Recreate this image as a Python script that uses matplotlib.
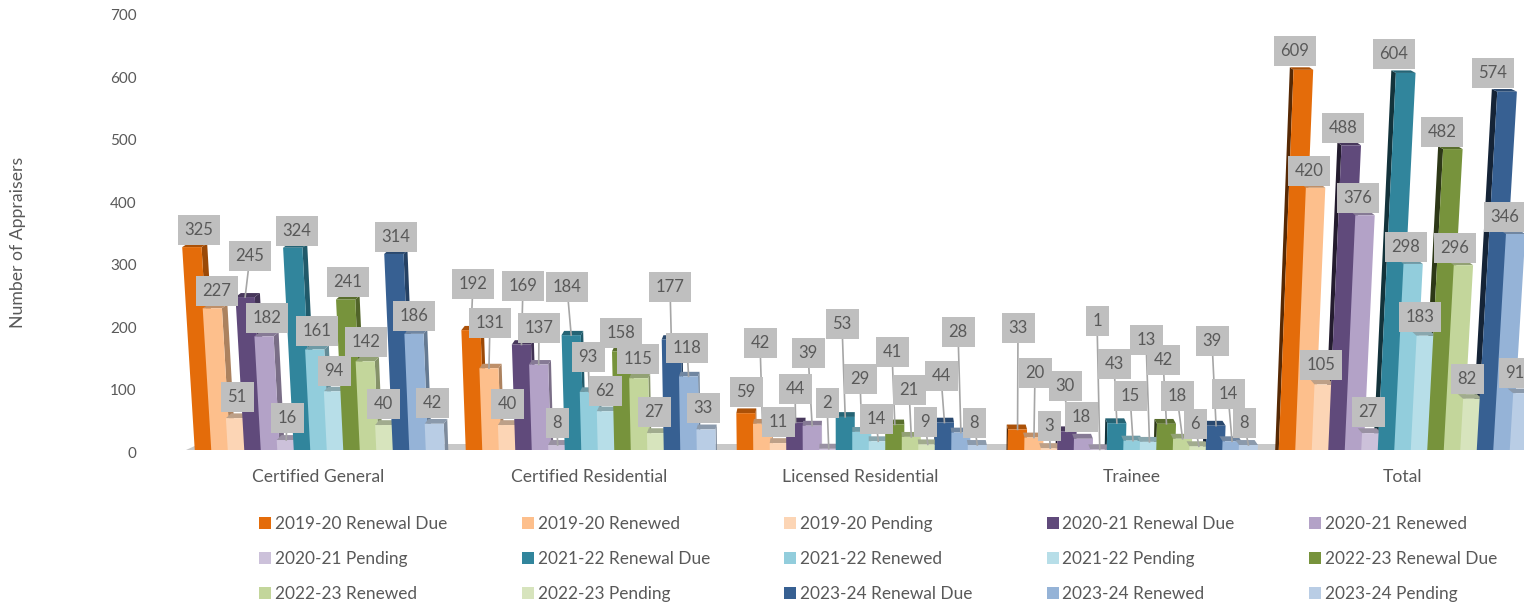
import matplotlib
matplotlib.use('Agg')
import matplotlib.pyplot as plt
from matplotlib.colors import to_rgb
from matplotlib.patches import Rectangle
from matplotlib.transforms import ScaledTranslation

plt.rcParams['font.family'] = ['Lato', 'DejaVu Sans']

W, H = 1524, 606

categories = ['Certified General', 'Certified Residential', 'Licensed Residential', 'Trainee', 'Total']

due_2019 = [325, 192, 59, 33, 609]
renewed_2019 = [227, 131, 42, 20, 420]
pending_2019 = [51, 40, 11, 3, 105]
due_2020 = [245, 169, 44, 30, 488]
renewed_2020 = [182, 137, 39, 18, 376]
pending_2020 = [16, 8, 2, 1, 27]
due_2021 = [324, 184, 53, 43, 604]
renewed_2021 = [161, 93, 29, 15, 298]
pending_2021 = [94, 62, 14, 13, 183]
due_2022 = [241, 158, 41, 42, 482]
renewed_2022 = [142, 115, 21, 18, 296]
pending_2022 = [40, 27, 9, 6, 82]
due_2023 = [314, 177, 44, 39, 574]
renewed_2023 = [186, 118, 28, 14, 346]
pending_2023 = [42, 33, 8, 8, 91]

series_names = ['2019-20 Renewal Due', '2019-20 Renewed', '2019-20 Pending',
                '2020-21 Renewal Due', '2020-21 Renewed', '2020-21 Pending',
                '2021-22 Renewal Due', '2021-22 Renewed', '2021-22 Pending',
                '2022-23 Renewal Due', '2022-23 Renewed', '2022-23 Pending',
                '2023-24 Renewal Due', '2023-24 Renewed', '2023-24 Pending']
series_values = [due_2019, renewed_2019, pending_2019,
                 due_2020, renewed_2020, pending_2020,
                 due_2021, renewed_2021, pending_2021,
                 due_2022, renewed_2022, pending_2022,
                 due_2023, renewed_2023, pending_2023]
colors = ['#E46C0A', '#FDBF8C', '#FCD5B5',
          '#604A7B', '#B3A2C7', '#CCC1DA',
          '#31859C', '#92CDDC', '#B7DEE8',
          '#77933C', '#C3D69B', '#D7E4BD',
          '#376092', '#95B3D7', '#B9CDE5']

# label box centres in pixels, one row per category
label_px = [
    [(199, 230), (217, 291), (237, 397), (250, 256), (267, 318), (287, 418), (297, 231), (317, 331),
     (334, 371), (348, 282), (366, 342), (383, 404), (396, 237), (414, 316), (432, 403)],
    [(473, 284), (490, 323), (507, 404), (523, 286), (539, 328), (557, 423), (567, 287), (588, 357),
     (605, 391), (621, 333), (638, 359), (654, 412), (670, 287), (687, 348), (703, 408)],
    [(746, 392), (760, 343), (778, 422), (795, 389), (808, 353), (827, 403), (842, 324), (860, 379),
     (876, 419), (892, 352), (909, 390), (925, 422), (941, 376), (958, 332), (974, 423)],
    [(1018, 328), (1035, 373), (1049, 426), (1065, 386), (1081, 417), (1097, 321), (1114, 364), (1130, 396),
     (1146, 340), (1163, 360), (1177, 396), (1195, 424), (1212, 341), (1228, 394), (1244, 423)],
    [(1295, 51), (1309, 171), (1321, 365), (1343, 128), (1358, 198), (1368, 412), (1394, 54), (1406, 247),
     (1420, 317), (1442, 132), (1455, 248), (1467, 379), (1493, 73), (1505, 217), (1515, 373)],
]

text_color = '#595959'
box_color = '#BFBFBF'
leader_color = '#A6A6A6'
box_widths = {1: 23, 2: 33, 3: 42}
box_h = 30

# axes run from x=170 to the right edge, y=0 at pixel row 450, y=700 at row 13
left, right, top, bottom = 170, W, 13, 450
px_per_unit = 271.0
center0 = 318.5
fig = plt.figure(figsize=(W / 100, H / 100), dpi=100)
ax = fig.add_axes([left / W, 1 - bottom / H, (right - left) / W, (bottom - top) / H])
ax.set_xlim((left - center0) / px_per_unit, (right - center0) / px_per_unit)
ax.set_ylim(0, 700)
for s in ax.spines.values():
    s.set_visible(False)
ax.patch.set_alpha(0)

px_per_value = (bottom - top) / 700.0
pitch = 16.5 / px_per_unit
bar_w = 19.0 / px_per_unit
vanish = 2.0      # bars lean away from this x
lean = 5.8e-5     # outward shift per unit of height
depth = 0.0085    # how far the back face moves towards vanish


def project(x, v):
    return vanish + (x - vanish) * (1 + lean * v)


def back(x):
    return x + (vanish - x) * depth


def shade(color, f):
    r, g, b = to_rgb(color)
    return (r * f, g * f, b * f)


def draw_bar(x, v, color, z):
    xl0, xr0 = project(x, 0), project(x + bar_w, 0)
    xl1, xr1 = project(x, v), project(x + bar_w, v)
    dy = (5 - 2.5 * v / 609) / px_per_value
    # side faces sit on a lower layer so the neighbouring front faces cover them
    if xr1 < vanish:
        ax.fill([xr0, xr1, back(xr1), back(xr0)], [0, v, v + dy, 0], color=shade(color, 0.68), lw=0,
                zorder=2, clip_on=False)
    if xl1 > vanish:
        ax.fill([xl0, xl1, back(xl1), back(xl0)], [0, v, v + dy, 0], color=shade(color, 0.38), lw=0,
                zorder=2, clip_on=False)
    ax.fill([back(xl1), back(xr1), xr1, xl1], [v + dy, v + dy, v, v], color=shade(color, 0.75), lw=0,
            zorder=z, clip_on=False)
    ax.fill([xl0, xr0, xr1, xl1], [0, 0, v, v], color=color, lw=0, zorder=z + 0.1, clip_on=False)


# floor strip under the bars
floor_h = 6 / px_per_value
ax.fill([-0.49, 4.4, 4.4, -0.44], [0, 0, floor_h, floor_h], color='#C8C8C8', lw=0, zorder=1, clip_on=False)

z = 3
for c in range(len(categories)):
    for j, vals in enumerate(series_values):
        x = c + (j - 7.5) * pitch
        draw_bar(x, vals[c], colors[j], z)
        z += 1

inv = ax.transData.inverted()
for c in range(len(categories)):
    for j, vals in enumerate(series_values):
        v = vals[c]
        lx, ly = inv.transform((label_px[c][j][0], H - label_px[c][j][1]))
        bar_x = project(c + (j - 7.5) * pitch + bar_w / 2, v)
        half_h = box_h / 2 / px_per_value
        bw = box_widths[len(str(v))] / px_per_unit
        # leader only when the box sits clear of its bar
        if ly - half_h - v > 7 / px_per_value:
            ax.plot([lx, bar_x], [ly, v], color=leader_color, lw=1.2, zorder=500, clip_on=False)
        order = 600 + (c * 15 + j) * 2
        ax.add_patch(Rectangle((lx - bw / 2, ly - half_h), bw, 2 * half_h, fc=box_color, ec='none',
                               zorder=order, clip_on=False))
        ax.text(lx, ly, str(v), ha='center', va='center', color=text_color, fontsize=12,
                zorder=order + 1, clip_on=False)

ax.set_xticks(range(len(categories)))
ax.set_xticklabels(categories, fontsize=12.6, color=text_color)
ax.set_yticks(range(0, 701, 100))
ax.tick_params(axis='y', labelsize=11, labelcolor=text_color, length=0, pad=24)
ax.tick_params(axis='x', length=0, pad=14)
# nudge the value labels down a little
nudge = ScaledTranslation(0, -2 / 72 * 0.72, fig.dpi_scale_trans)
for lab in ax.get_yticklabels():
    lab.set_transform(lab.get_transform() + nudge)
fig.text(18 / W, 1 - 242 / H, 'Number of Appraisers', rotation=90, ha='center', va='center',
         fontsize=12.7, color=text_color)

# legend laid out row by row
col_x = [259, 521.5, 784, 1046.5, 1309]
row_y = [523, 558, 593]
for i, name in enumerate(series_names):
    px = col_x[i % 5]
    py = row_y[i // 5]
    fig.add_artist(Rectangle((px / W, 1 - (py + 6) / H), 12 / W, 12 / H, transform=fig.transFigure,
                             fc=colors[i], ec='none'))
    fig.text((px + 16) / W, 1 - (py + 1) / H, name, ha='left', va='center', fontsize=12.4, color=text_color)

fig.savefig('out.png', dpi=100)
